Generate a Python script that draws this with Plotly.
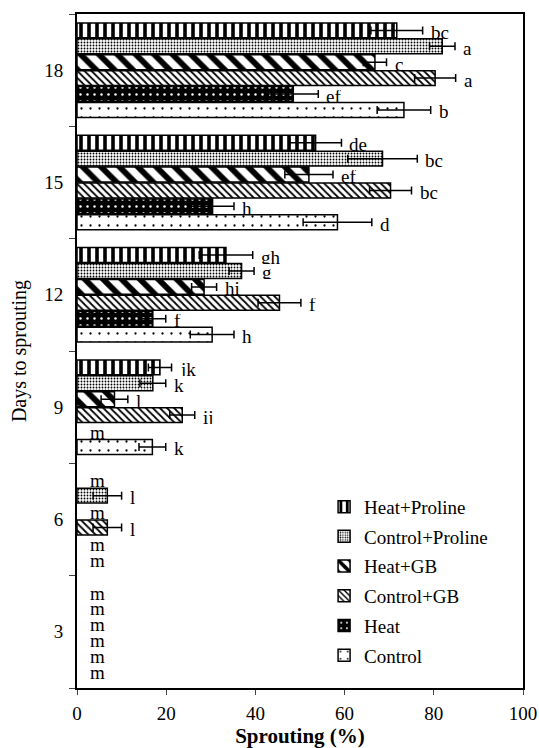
import plotly.graph_objects as go

days = ["3", "6", "9", "12", "15", "18"]

# series values (% sprouting) per day, order = days
control = [0, 0, 16.9, 30.3, 58.4, 73.3]
control_err = [0, 0, 3.0, 4.9, 7.7, 6.0]
control_lbl = ["m", "m", "k", "h", "d", "b"]

heat = [0, 0, 0, 17.0, 30.4, 48.5]
heat_err = [0, 0, 0, 2.9, 4.8, 5.6]
heat_lbl = ["m", "m", "m", "f", "h", "ef"]

control_gb = [0, 6.8, 23.6, 45.4, 70.3, 80.3]
control_gb_err = [0, 3.2, 2.8, 4.8, 4.7, 4.6]
control_gb_lbl = ["m", "l", "ij", "f", "bc", "a"]

heat_gb = [0, 0, 8.4, 28.5, 52.0, 66.8]
heat_gb_err = [0, 0, 3.0, 2.8, 5.4, 2.6]
heat_gb_lbl = ["m", "m", "l", "hi", "ef", "c"]

control_pro = [0, 6.8, 17.0, 36.9, 68.5, 81.9]
control_pro_err = [0, 3.2, 2.9, 2.8, 7.8, 2.85]
control_pro_lbl = ["m", "l", "k", "g", "bc", "a"]

heat_pro = [0, 0, 18.6, 33.4, 53.5, 71.7]
heat_pro_err = [0, 0, 2.6, 6.0, 5.8, 5.8]
heat_pro_lbl = ["m", "m", "jk", "gh", "de", "bc"]

series_names = ["Control", "Heat", "Control+GB", "Heat+GB", "Control+Proline", "Heat+Proline"]
series_vals = [control, heat, control_gb, heat_gb, control_pro, heat_pro]
series_errs = [control_err, heat_err, control_gb_err, heat_gb_err, control_pro_err, heat_pro_err]
series_lbls = [control_lbl, heat_lbl, control_gb_lbl, heat_gb_lbl, control_pro_lbl, heat_pro_lbl]

patterns = [
    dict(shape=".", bgcolor="white", fgcolor="black", size=9, solidity=0.05, fgopacity=1),
    dict(shape=".", bgcolor="black", fgcolor="white", size=7, solidity=0.1, fgopacity=1),
    dict(shape="\\", bgcolor="white", fgcolor="black", size=5, solidity=0.35, fgopacity=1),
    dict(shape="\\", bgcolor="white", fgcolor="black", size=13, solidity=0.45, fgopacity=1),
    dict(shape=".", bgcolor="white", fgcolor="black", size=3, solidity=0.3, fgopacity=1),
    dict(shape="|", bgcolor="white", fgcolor="black", size=8, solidity=0.45, fgopacity=1),
]
bg = ["white", "black", "white", "white", "white", "white"]

FONT = "Liberation Serif, Times New Roman, serif"
BARGAP = 0.15
n = len(series_names)

fig = go.Figure()
for k in range(n):
    vals = series_vals[k]
    errs = series_errs[k]
    fig.add_trace(go.Bar(
        y=days,
        x=[v if v > 0 else None for v in vals],
        orientation="h",
        name=series_names[k],
        legendgroup=series_names[k],
        legendrank=n - k,
        marker=dict(color=bg[k], line=dict(color="black", width=1.5), pattern=patterns[k]),
        error_x=dict(type="data", array=errs, color="black", thickness=1.5, width=4),
    ))

# letter annotations
slot = (1 - BARGAP) / n
for k in range(n):
    for i, d in enumerate(days):
        ypos = i - (1 - BARGAP) / 2 + (k + 0.5) * slot
        v = series_vals[k][i]
        e = series_errs[k][i]
        if v > 0:
            fig.add_annotation(x=v + e, y=ypos, text=series_lbls[k][i], showarrow=False,
                               xanchor="left", yanchor="middle", xshift=6, yshift=-2,
                               height=13, font=dict(family=FONT, size=19, color="black"))
        else:
            fig.add_annotation(x=4.7, y=ypos, text=series_lbls[k][i], showarrow=False,
                               xanchor="center", yanchor="middle", yshift=-1,
                               height=13, font=dict(family=FONT, size=19, color="black"))

fig.update_layout(
    width=539, height=748,
    margin=dict(l=77, r=16, t=14, b=60),
    paper_bgcolor="white", plot_bgcolor="white",
    barmode="group", bargap=BARGAP, bargroupgap=0.06,
    font=dict(family=FONT, size=19, color="black"),
    legend=dict(x=0.554, y=0.297, xanchor="left", yanchor="top",
                traceorder="grouped", tracegroupgap=2,
                font=dict(family=FONT, size=19), bgcolor="rgba(0,0,0,0)"),
    showlegend=True,
)
fig.update_xaxes(range=[0, 100], tickvals=[0, 20, 40, 60, 80, 100], ticks="outside", ticklen=5,
                 ticklabelstandoff=2, automargin=False,
                 showline=True, linecolor="black", linewidth=2, mirror=True, showgrid=False,
                 zeroline=False, tickfont=dict(family=FONT, size=19),
                 title=dict(text="<b>Sprouting (%)</b>", font=dict(family=FONT, size=21), standoff=10))
fig.update_yaxes(type="category", categoryorder="array", categoryarray=days,
                 ticks="outside", ticklen=6, tickson="boundaries", ticklabelstandoff=8,
                 automargin=False,
                 showline=True, linecolor="black", linewidth=2, mirror=True, showgrid=False,
                 tickfont=dict(family=FONT, size=19),
                 title=dict(text="Days to sprouting", font=dict(family=FONT, size=20), standoff=12))

fig.write_html("out.html")
